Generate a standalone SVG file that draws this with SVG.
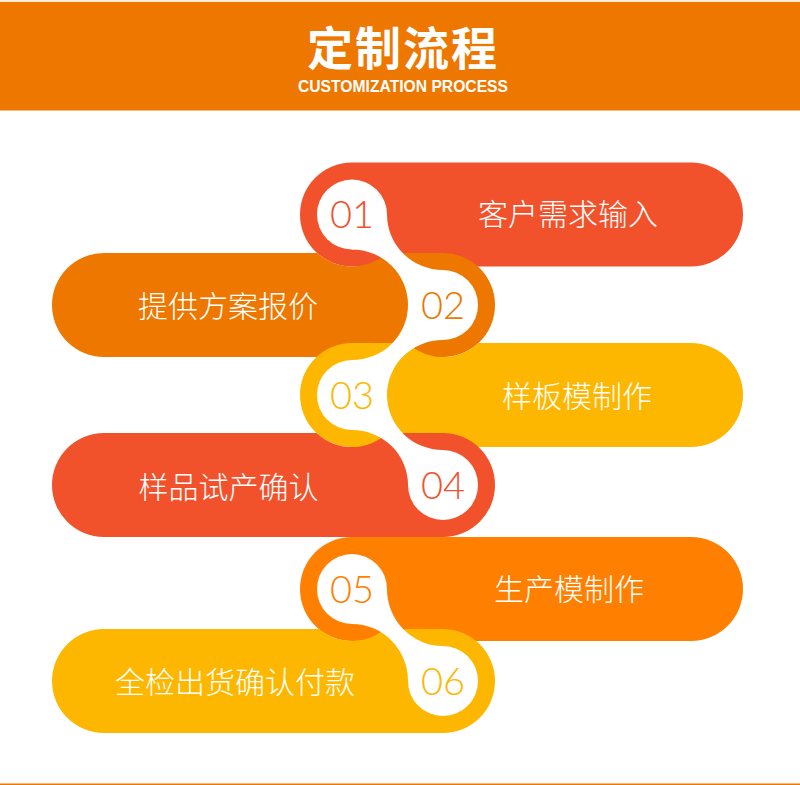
<svg xmlns="http://www.w3.org/2000/svg" width="800" height="785" viewBox="0 0 800 785">
<style>
.red{fill:#F1522B}
.org{fill:#EE7700}
.yel{fill:#FEB700}
.org2{fill:#FF7F00}
.hole{fill:#fff}
.neck{fill:#fff}
.label{font-family:"Noto Sans CJK SC","Noto Sans",sans-serif;font-size:30px;font-weight:300;fill:#fff;text-anchor:middle}
.num{font-family:Lato,"Open Sans",sans-serif;font-size:38px;font-weight:300;text-anchor:middle}
.title{font-family:"Noto Sans CJK SC",sans-serif;font-size:46px;font-weight:700;fill:#fff;text-anchor:middle}
.sub{font-family:"Liberation Sans",sans-serif;font-size:16px;font-weight:700;fill:#fff;text-anchor:middle}
</style>
<g id="header">
<rect x="0" y="0" width="800" height="2" fill="#FCEBD3"/>
<rect x="0" y="2" width="800" height="108.5" fill="#EE7700"/>
<text class="title" x="403" y="65" letter-spacing="2">定制流程</text>
<text class="sub" x="403" y="91.5" textLength="210" lengthAdjust="spacingAndGlyphs">CUSTOMIZATION PROCESS</text>
</g>
<g id="step-01">
<rect class="red" x="300" y="162.5" width="443" height="104" rx="52"/>
<circle class="hole" cx="352" cy="214.5" r="35"/>
<text class="num red" x="352" y="228">01</text>
<text class="label" x="568" y="225">客户需求输入</text>
</g>
<g id="step-02">
<path class="org" d="M104,253 H317.05 A52 52 0 0 0 386.95,253 H443 A52 52 0 0 1 443,357 H104 A52 52 0 0 1 104,253 Z"/>
<circle class="hole" cx="443" cy="305" r="35"/>
<text class="num org" x="443" y="318.5">02</text>
<text class="label" x="228" y="317">提供方案报价</text>
</g>
<g id="step-03">
<path class="yel" d="M352,343 H407.5 A52 52 0 0 0 478.5,343 H691 A52 52 0 0 1 691,447 H352 A52 52 0 0 1 352,343 Z"/>
<circle class="hole" cx="352" cy="395" r="35"/>
<text class="num yel" x="352" y="408.5">03</text>
<text class="label" x="577" y="407">样板模制作</text>
</g>
<g id="step-04">
<path class="red" d="M104,433 H316.5 A52 52 0 0 0 387.5,433 H443 A52 52 0 0 1 443,537 H104 A52 52 0 0 1 104,433 Z"/>
<circle class="hole" cx="443" cy="485" r="35"/>
<text class="num red" x="443" y="498.5">04</text>
<text class="label" x="228.5" y="497.5">样品试产确认</text>
</g>
<g id="step-05">
<rect class="org2" x="300" y="537" width="443" height="104" rx="52"/>
<circle class="hole" cx="352" cy="589" r="35"/>
<text class="num org2" x="352" y="602.5">05</text>
<text class="label" x="569" y="600">生产模制作</text>
</g>
<g id="step-06">
<path class="yel" d="M104,629 H318.8 A52 52 0 0 0 385.2,629 H443 A52 52 0 0 1 443,733 H104 A52 52 0 0 1 104,629 Z"/>
<circle class="hole" cx="443" cy="681" r="35"/>
<text class="num yel" x="443" y="694.5">06</text>
<text class="label" x="235" y="693">全检出货确认付款</text>
</g>
<g id="connectors">
<path class="neck" d="M387,214.5 A56 55.5 0 0 0 443,270 L443,272 A33 33 0 0 0 410,305 L408,305 A56 55.5 0 0 0 352,249.5 L352,247.5 A33 33 0 0 0 385,214.5 Z"/>
<path class="neck" d="M408,305 L410,305 A33 33 0 0 0 443,338 L443,340 A56 55 0 0 0 387,395 L385,395 A33 33 0 0 0 352,362 L352,360 A56 55 0 0 0 408,305 Z"/>
<path class="neck" d="M387,395 A56 55 0 0 0 443,450 L443,452 A33 33 0 0 0 410,485 L408,485 A56 55 0 0 0 352,430 L352,428 A33 33 0 0 0 385,395 Z"/>
<path class="neck" d="M387,589 A56 57 0 0 0 443,646 L443,648 A33 33 0 0 0 410,681 L408,681 A56 57 0 0 0 352,624 L352,622 A33 33 0 0 0 385,589 Z"/>
</g>
<rect id="footer-line" x="0" y="783.5" width="800" height="1.5" fill="#EE7700"/>
</svg>
